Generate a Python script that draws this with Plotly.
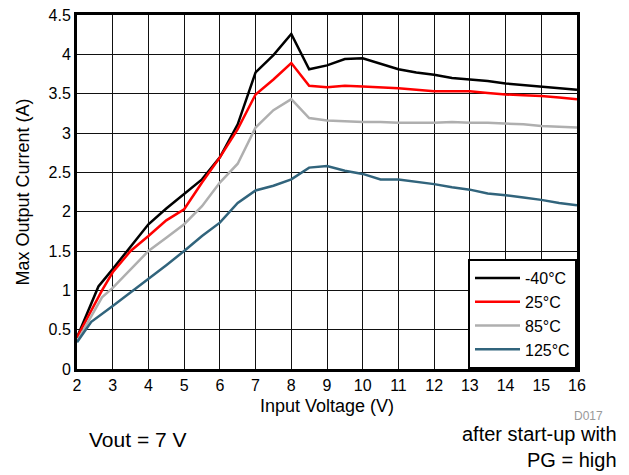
import plotly.graph_objects as go

# Data
x_m40 = [2, 2.6, 3, 3.5, 4, 4.5, 5, 5.5, 6, 6.5, 7, 7.5, 8, 8.5, 9, 9.5, 10, 10.5, 11, 11.5, 12, 12.5, 13, 13.5, 14, 14.5, 15, 15.5, 16]
y_m40 = [0.40, 1.05, 1.27, 1.56, 1.84, 2.04, 2.23, 2.41, 2.69, 3.11, 3.77, 3.99, 4.26, 3.81, 3.86, 3.94, 3.95, 3.88, 3.81, 3.77, 3.74, 3.70, 3.68, 3.66, 3.63, 3.61, 3.59, 3.57, 3.55]

x_25 = [2, 2.7, 3, 3.5, 4, 4.5, 5, 5.5, 6, 6.5, 7, 7.5, 8, 8.5, 9, 9.5, 10, 10.5, 11, 11.5, 12, 12.5, 13, 13.5, 14, 14.5, 15, 15.5, 16]
y_25 = [0.40, 1.00, 1.23, 1.50, 1.69, 1.89, 2.03, 2.37, 2.69, 3.05, 3.49, 3.68, 3.89, 3.60, 3.58, 3.60, 3.59, 3.58, 3.57, 3.55, 3.53, 3.53, 3.53, 3.51, 3.49, 3.48, 3.47, 3.45, 3.43]

x_85 = [2, 2.7, 3, 3.5, 4, 4.5, 5, 5.5, 6, 6.5, 7, 7.5, 8, 8.5, 9, 9.5, 10, 10.5, 11, 11.5, 12, 12.5, 13, 13.5, 14, 14.5, 15, 15.5, 16]
y_85 = [0.35, 0.91, 1.03, 1.27, 1.50, 1.67, 1.84, 2.07, 2.37, 2.61, 3.07, 3.29, 3.43, 3.19, 3.16, 3.15, 3.14, 3.14, 3.13, 3.13, 3.13, 3.14, 3.13, 3.13, 3.12, 3.11, 3.09, 3.08, 3.07]

x_125 = [2, 2.4, 3, 3.5, 4, 4.5, 5, 5.5, 6, 6.5, 7, 7.5, 8, 8.5, 9, 9.5, 10, 10.5, 11, 11.5, 12, 12.5, 13, 13.5, 14, 14.5, 15, 15.5, 16]
y_125 = [0.34, 0.60, 0.80, 0.97, 1.14, 1.32, 1.50, 1.69, 1.86, 2.11, 2.27, 2.33, 2.41, 2.56, 2.58, 2.52, 2.48, 2.41, 2.41, 2.38, 2.35, 2.31, 2.28, 2.23, 2.21, 2.18, 2.15, 2.11, 2.08]

names = ["-40°C", "25°C", "85°C", "125°C"]
colors = ["#000000", "#FF0000", "#AFAFAF", "#31647C"]

x_ticks = list(range(2, 17))
y_ticks = [0, 0.5, 1, 1.5, 2, 2.5, 3, 3.5, 4, 4.5]
y_tick_labels = ["0", "0.5", "1", "1.5", "2", "2.5", "3", "3.5", "4", "4.5"]

FONT = "Liberation Sans, Arial, sans-serif"

fig = go.Figure()
for xs, ys, nm, c in zip([x_m40, x_25, x_85, x_125], [y_m40, y_25, y_85, y_125], names, colors):
    fig.add_trace(go.Scatter(x=xs, y=ys, mode="lines", name=nm,
                             line=dict(color=c, width=2.5)))

fig.update_layout(
    width=629, height=475,
    margin=dict(l=69, r=60, t=7, b=114, autoexpand=False),
    paper_bgcolor="white", plot_bgcolor="white",
    font=dict(family=FONT, size=16, color="black"),
    showlegend=True,
    legend=dict(x=1, y=0, xanchor="right", yanchor="bottom",
                bgcolor="white", bordercolor="black", borderwidth=2,
                font=dict(size=16, family=FONT), itemwidth=45,
                tracegroupgap=0),
)
fig.update_xaxes(
    range=[2, 16], tickvals=x_ticks, ticktext=[str(v) for v in x_ticks],
    showgrid=True, gridcolor="#111111", gridwidth=1,
    showline=True, linecolor="black", linewidth=3, mirror=True,
    ticks="", zeroline=False, tickfont=dict(size=16), ticklabeloverflow="allow",
    title=dict(text="Input Voltage (V)", font=dict(size=18), standoff=7),
)
fig.update_yaxes(
    range=[0, 4.5], tickvals=y_ticks, ticktext=y_tick_labels,
    showgrid=True, gridcolor="#111111", gridwidth=1,
    showline=True, linecolor="black", linewidth=3, mirror=True,
    ticks="", zeroline=False, tickfont=dict(size=16), ticklabeloverflow="allow",
    title=dict(text="Max Output Current (A)", font=dict(size=18), standoff=15),
)

fig.add_annotation(text="D017", xref="paper", yref="paper", x=1.056, y=-0.133,
                   showarrow=False, xanchor="right", yanchor="middle",
                   font=dict(size=12, color="#999999", family=FONT))
fig.add_annotation(text="Vout = 7 V", xref="paper", yref="paper", x=0.02, y=-0.2,
                   showarrow=False, xanchor="left", yanchor="middle",
                   font=dict(size=21, color="black", family=FONT))
fig.add_annotation(text="after start-up with<br>PG = high", xref="paper", yref="paper",
                   x=1.084, y=-0.294, showarrow=False, xanchor="right", yanchor="bottom",
                   align="right", font=dict(size=20, color="black", family=FONT))

fig.write_html("out.html")
